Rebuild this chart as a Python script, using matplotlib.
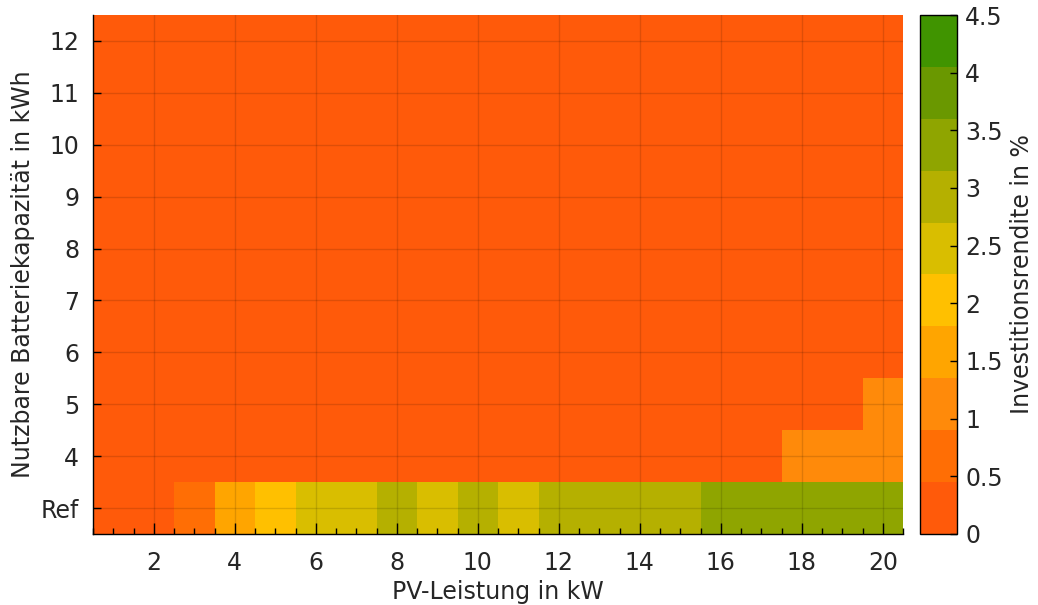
import numpy as np
import matplotlib
matplotlib.use("Agg")
import matplotlib.pyplot as plt
from matplotlib.colors import ListedColormap, BoundaryNorm

# PV power (kW) and usable battery capacity rows (first row = reference system)
pv_kw = np.arange(1, 21)
battery_rows = [3, 4, 5, 6, 7, 8, 9, 10, 11, 12]
row_labels = ['Ref', '4', '5', '6', '7', '8', '9', '10', '11', '12']

# return on investment in % per battery row (rows without storage pay off poorly)
roi_ref = [0.1, 0.2, 0.7, 1.6, 2.0, 2.5, 2.6, 2.9, 2.6, 2.9,
           2.6, 2.9, 3.0, 3.0, 3.1, 3.3, 3.4, 3.4, 3.5, 3.5]
roi_4 = [0.0] * 17 + [1.0, 1.0, 1.0]
roi_5 = [0.0] * 19 + [1.0]
roi_rest = [0.0] * 20

roi = np.array([roi_ref, roi_4, roi_5] + [roi_rest] * 7)

# discrete colour scale 0 .. 4.5 %
levels = np.linspace(0, 4.5, 11)
band_colors = ['#ff5a0a', '#ff6e05', '#ff8a0a', '#ffa500', '#ffc000',
               '#d9be00', '#b5b000', '#8fa500', '#6a9800', '#409400']
cmap = ListedColormap(band_colors)
norm = BoundaryNorm(levels, cmap.N)

txt = '#262626'
fs = 17

fig = plt.figure(figsize=(10.38, 6.05), dpi=100)
ax = fig.add_axes([0.0896, 0.1174, 0.7804, 0.8578])
cax = fig.add_axes([0.8863, 0.1174, 0.0356, 0.8578])

x_edges = np.append(pv_kw - 0.5, pv_kw[-1] + 0.5)
y_edges = np.append(np.array(battery_rows) - 0.5, battery_rows[-1] + 0.5)
mesh = ax.pcolormesh(x_edges, y_edges, roi, cmap=cmap, norm=norm)

ax.set_xlim(0.5, 20.5)
ax.set_ylim(2.5, 12.5)
ax.set_xticks(np.arange(2, 21, 2))
ax.set_xticks(np.arange(0.5, 20.6, 0.5), minor=True)
ax.set_yticks(battery_rows)
ax.set_yticklabels(row_labels)

ax.set_axisbelow(False)
ax.grid(True, which='major', color='black', alpha=0.13, lw=1)

for side in ['top', 'right']:
    ax.spines[side].set_visible(False)
for side in ['left', 'bottom']:
    ax.spines[side].set_color('black')
    ax.spines[side].set_linewidth(1)

ax.tick_params(axis='x', which='major', direction='in', length=8, width=1,
               labelsize=fs, labelcolor=txt, pad=12)
ax.tick_params(axis='x', which='minor', direction='in', length=4, width=1)
ax.tick_params(axis='y', which='major', direction='in', length=6, width=1,
               labelsize=fs, labelcolor=txt, pad=10)
ax.tick_params(axis='y', which='minor', left=False)

ax.set_xlabel('PV-Leistung in kW', fontsize=fs, color=txt, labelpad=4)
ax.set_ylabel('Nutzbare Batteriekapazität in kWh', fontsize=fs, color=txt,
              labelpad=4)

cb = fig.colorbar(mesh, cax=cax, boundaries=levels)
cb.set_ticks(np.arange(0, 4.51, 0.5))
cb.set_ticklabels(['%g' % t for t in np.arange(0, 4.51, 0.5)])
cb.ax.minorticks_off()
cb.ax.tick_params(direction='in', length=5, width=1, labelsize=fs,
                  labelcolor=txt, pad=6)
cb.outline.set_linewidth(1)
cb.set_label('Investitionsrendite in %', fontsize=fs, color=txt, labelpad=5)

fig.savefig('out.png', dpi=100, facecolor='white')
